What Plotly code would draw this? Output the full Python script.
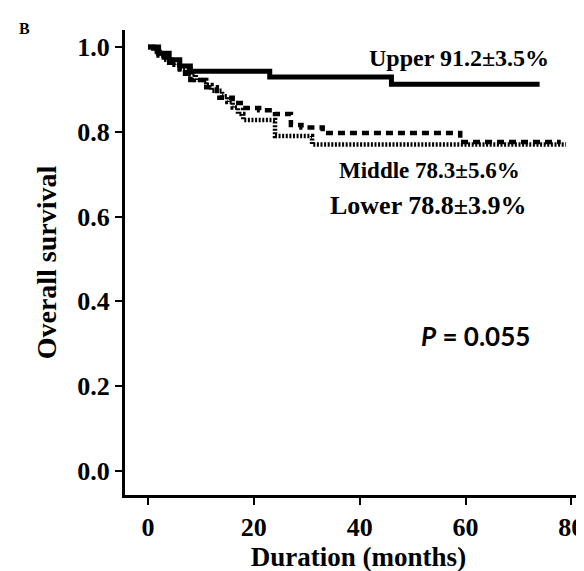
import plotly.graph_objects as go

# Kaplan-Meier step data (months, survival)
upper_t = [0, 2, 4, 6, 8, 23, 46, 74]
upper_s = [1.0, 0.985, 0.97, 0.955, 0.943, 0.929, 0.912, 0.912]

middle_t = [0, 1, 3, 4, 6, 7, 8, 11, 13, 16, 18, 21, 24, 27, 29, 33, 59, 78]
middle_s = [1.0, 0.988, 0.975, 0.963, 0.95, 0.937, 0.922, 0.905, 0.88, 0.868, 0.856, 0.851, 0.842, 0.816, 0.81, 0.797, 0.776, 0.776]

lower_t = [0, 1, 2, 3, 5, 6, 8, 9, 11, 12, 14, 15, 16, 17, 18, 24, 31, 79]
lower_s = [1.0, 0.99, 0.98, 0.97, 0.958, 0.947, 0.935, 0.922, 0.91, 0.897, 0.884, 0.87, 0.857, 0.842, 0.828, 0.79, 0.77, 0.77]

x_ticks = [0, 20, 40, 60, 80]
y_ticks = [0.0, 0.2, 0.4, 0.6, 0.8, 1.0]
y_ticklabels = ["0.0", "0.2", "0.4", "0.6", "0.8", "1.0"]

labels = ["Upper 91.2±3.5%", "Middle 78.3±5.6%", "Lower 78.8±3.9%"]
p_text = "<i>P</i> = 0.055"

serif = "Liberation Serif"

fig = go.Figure()
fig.add_trace(go.Scatter(x=lower_t, y=lower_s, mode="lines", line_shape="hv",
                         line=dict(color="black", width=4.5, dash="2px,1.6px"), showlegend=False))
fig.add_trace(go.Scatter(x=middle_t, y=middle_s, mode="lines", line_shape="hv",
                         line=dict(color="black", width=4.5, dash="7px,5px"), showlegend=False))
fig.add_trace(go.Scatter(x=upper_t, y=upper_s, mode="lines", line_shape="hv",
                         line=dict(color="black", width=5), showlegend=False))

fig.add_annotation(x=58.8, y=0.974, text=labels[0], showarrow=False,
                   font=dict(family=serif, size=24, color="black", weight="bold"))
fig.add_annotation(x=53.2, y=0.7075, text=labels[1], showarrow=False,
                   font=dict(family=serif, size=23, color="black", weight="bold"))
fig.add_annotation(x=53.0, y=0.627, text=labels[2], showarrow=False,
                   font=dict(family=serif, size=26, color="black", weight="bold"))
fig.add_annotation(x=61.9, y=0.318, text=p_text, showarrow=False,
                   font=dict(family="Lato", size=26, color="black", weight="bold"))
fig.add_annotation(x=-0.216, y=1.004, xref="paper", yref="paper", text="B", showarrow=False,
                   xanchor="center", yanchor="middle",
                   font=dict(family=serif, size=16, color="black", weight="bold"))

fig.update_xaxes(range=[-4.35, 83.9], tickvals=x_ticks, ticks="outside", ticklen=7, tickwidth=2,
                 tickcolor="black", showline=True, linewidth=3, linecolor="black", showgrid=False,
                 zeroline=False,
                 tickfont=dict(family=serif, size=26, color="black", weight="bold"),
                 title=dict(text="Duration (months)", standoff=1,
                            font=dict(family=serif, size=27, color="black", weight="bold")))
fig.update_yaxes(range=[-0.0566, 1.040], tickvals=y_ticks, ticktext=y_ticklabels, ticks="outside",
                 ticklen=7, tickwidth=2, tickcolor="black", showline=True, linewidth=3,
                 linecolor="black", showgrid=False, zeroline=False,
                 tickfont=dict(family=serif, size=26, color="black", weight="bold"),
                 title=dict(text="Overall survival", standoff=13,
                            font=dict(family=serif, size=28, color="black", weight="bold")))

fig.update_layout(width=584, height=571, margin=dict(l=117, r=0, t=22, b=84),
                  plot_bgcolor="white", paper_bgcolor="white")

fig.write_html("out.html")
